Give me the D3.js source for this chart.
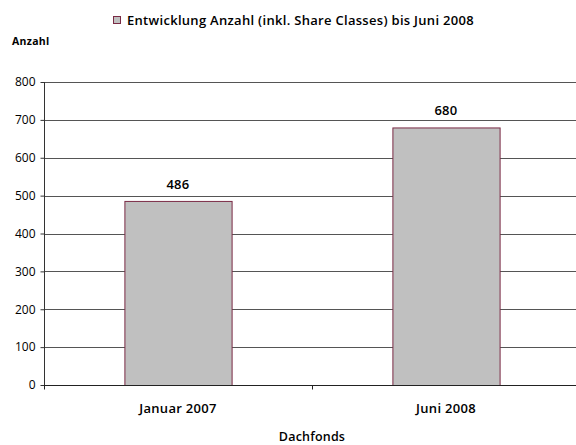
<!DOCTYPE html>
<html><head><meta charset="utf-8">
<script src="https://cdn.jsdelivr.net/npm/d3@7"></script>
<style>
html,body{margin:0;padding:0;background:#fff;}
svg{display:block;}
text{font-family:"Open Sans",sans-serif;fill:#000;}
</style></head>
<body>
<svg id="chart" width="576" height="445"></svg>
<script>
const categories = ["Januar 2007", "Juni 2008"];
const values = [486, 680];
const yTicks = [0, 100, 200, 300, 400, 500, 600, 700, 800];
const seriesName = "Entwicklung Anzahl (inkl. Share Classes) bis Juni 2008";
const yTitle = "Anzahl";
const xTitle = "Dachfonds";

const svg = d3.select("#chart");
const m = {left: 44, right: -4, top: 82, bottom: 60};
const W = 576, H = 445;
const plotW = W - m.left - m.right, y0 = 385;

const x = d3.scaleBand().domain(categories).range([m.left, m.left + plotW]).paddingInner(0.6).paddingOuter(0.3);
const y = d3.scaleLinear().domain([0, 800]).range([y0, m.top]);

const boldText = sel => sel.attr("font-size", 13).attr("font-weight", 600).attr("letter-spacing", 0.3);

// gridlines
svg.append("g").selectAll("line").data(yTicks.filter(d => d > 0)).join("line")
  .attr("x1", m.left).attr("x2", m.left + plotW)
  .attr("y1", d => Math.round(y(d)) + 0.5).attr("y2", d => Math.round(y(d)) + 0.5)
  .attr("stroke", "#555").attr("stroke-width", 1);

// bars
svg.append("g").selectAll("rect").data(values).join("rect")
  .attr("x", (d, i) => x(categories[i]) + 0.5)
  .attr("y", d => y(d) + 0.5)
  .attr("width", x.bandwidth())
  .attr("height", d => y0 - y(d))
  .attr("fill", "#c0c0c0").attr("stroke", "#7a2a45").attr("stroke-width", 1);

// value labels
svg.append("g").selectAll("text").data(values).join("text")
  .attr("x", (d, i) => x(categories[i]) + x.bandwidth() / 2)
  .attr("y", d => y(d) - 12)
  .attr("text-anchor", "middle").call(boldText)
  .text(d => d);

// y axis
const yAxis = svg.append("g").attr("transform", `translate(${m.left + 0.5},0)`)
  .call(d3.axisLeft(y).tickValues(yTicks).tickSize(4).tickPadding(5).tickFormat(d3.format("d")));
yAxis.select(".domain").attr("stroke", "#333").attr("d", `M0,${y(800)}V${y0}`);
yAxis.selectAll(".tick line").attr("stroke", "#333");
yAxis.selectAll("text").attr("font-size", 12).attr("font-family", "Open Sans").attr("fill", "#000");

// x axis
const xAxis = svg.append("g").attr("transform", `translate(0,${y0 + 0.5})`);
xAxis.append("line").attr("x1", m.left).attr("x2", m.left + plotW).attr("stroke", "#222");
const bounds = [m.left, m.left + plotW / 2, m.left + plotW];
xAxis.selectAll(".tk").data(bounds).join("line").attr("class", "tk")
  .attr("x1", d => Math.round(d) + 0.5).attr("x2", d => Math.round(d) + 0.5).attr("y1", 0).attr("y2", 4).attr("stroke", "#222");
xAxis.selectAll("text").data(categories).join("text")
  .attr("x", d => x(d) + x.bandwidth() / 2).attr("y", 27)
  .attr("text-anchor", "middle").call(boldText)
  .text(d => d);

// titles
svg.append("text").attr("x", 12).attr("y", 45).attr("font-size", 10.5).attr("font-weight", 700)
  .attr("letter-spacing", 0.3).text(yTitle);
svg.append("text").attr("x", m.left + plotW / 2).attr("y", 441).attr("text-anchor", "middle")
  .attr("font-size", 12.5).attr("font-weight", 600).attr("letter-spacing", 0.2).text(xTitle);

// legend
const lg = svg.append("g");
lg.append("rect").attr("x", 113.5).attr("y", 16.5).attr("width", 7).attr("height", 7)
  .attr("fill", "#c0c0c0").attr("stroke", "#7a2a45");
lg.append("text").attr("x", 127).attr("y", 25).call(boldText).text(seriesName);
</script>
</body></html>
